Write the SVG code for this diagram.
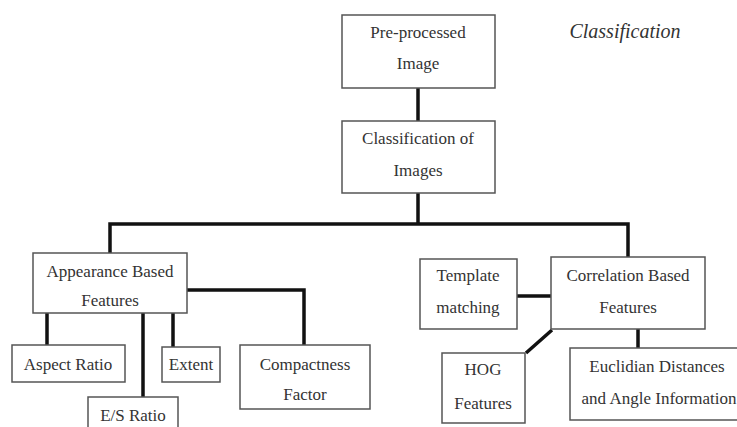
<svg xmlns="http://www.w3.org/2000/svg" width="737" height="427" viewBox="0 0 737 427">
<style>
.box{fill:#fff;stroke:#555;stroke-width:1.5}
.t{font-family:'Liberation Serif','Times New Roman',serif;font-size:17px;fill:#333;text-anchor:middle}
.it{font-family:'Liberation Serif','Times New Roman',serif;font-style:italic;font-size:20px;fill:#333;text-anchor:middle}
.c{fill:none;stroke:#111;stroke-width:3.5;stroke-linejoin:miter}
</style>
<rect width="737" height="427" fill="#fff"/>
<text class="it" x="625" y="38">Classification</text>
<g id="connectors">
<path class="c" d="M418 88V121"/>
<path class="c" d="M418 193V224M110 253V224H628V257"/>
<path class="c" d="M47 313V345M143 313V397M173 313V347M187 290H304V345"/>
<path class="c" d="M517 296H551M552 330L526 353M638 329V348"/>
</g>
<g id="preprocessed"><rect class="box" x="342" y="15" width="153" height="73"/><text class="t" x="418" y="38">Pre-processed</text><text class="t" x="418" y="69">Image</text></g>
<g id="classification"><rect class="box" x="342" y="121" width="153" height="72"/><text class="t" x="418" y="144">Classification of</text><text class="t" x="418" y="176">Images</text></g>
<g id="appearance"><rect class="box" x="33" y="253" width="154" height="60"/><text class="t" x="110" y="277">Appearance Based</text><text class="t" x="110" y="306">Features</text></g>
<g id="aspect"><rect class="box" x="12" y="345" width="113" height="37"/><text class="t" x="68" y="370">Aspect Ratio</text></g>
<g id="es"><rect class="box" x="88" y="397" width="90" height="40"/><text class="t" x="133" y="421">E/S Ratio</text></g>
<g id="extent"><rect class="box" x="162" y="347" width="58" height="35"/><text class="t" x="191" y="370">Extent</text></g>
<g id="compactness"><rect class="box" x="240" y="345" width="130" height="64"/><text class="t" x="305" y="370">Compactness</text><text class="t" x="305" y="400">Factor</text></g>
<g id="template"><rect class="box" x="420" y="259" width="97" height="70"/><text class="t" x="468" y="281">Template</text><text class="t" x="468" y="313">matching</text></g>
<g id="correlation"><rect class="box" x="551" y="257" width="154" height="72"/><text class="t" x="628" y="281">Correlation Based</text><text class="t" x="628" y="313">Features</text></g>
<g id="hog"><rect class="box" x="442" y="353" width="83" height="70"/><text class="t" x="483" y="375">HOG</text><text class="t" x="483" y="409">Features</text></g>
<g id="euclidian"><rect class="box" x="570" y="348" width="175" height="72"/><text class="t" x="657" y="372">Euclidian Distances</text><text class="t" x="659" y="404">and Angle Information</text></g>
</svg>
